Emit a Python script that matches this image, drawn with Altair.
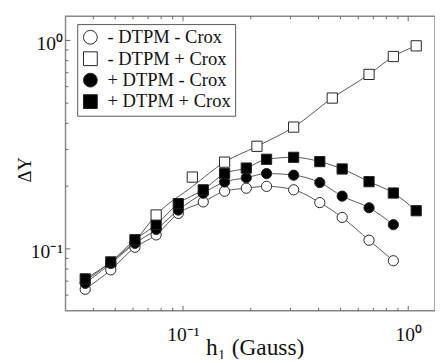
import altair as alt
import pandas as pd

# ---- data ----
series_names = ["- DTPM - Crox", "- DTPM + Crox", "+ DTPM - Crox", "+ DTPM + Crox"]

h_common = [0.0368, 0.0478, 0.0612, 0.0760, 0.0953, 0.123, 0.153, 0.191,
            0.235, 0.310, 0.405, 0.509, 0.670, 0.859]

open_circle_y = [0.064, 0.0793, 0.1018, 0.1167, 0.148, 0.168, 0.189, 0.1955,
                 0.1995, 0.192, 0.1667, 0.1415, 0.110, 0.0877]
filled_circle_y = [0.0683, 0.0851, 0.1063, 0.1239, 0.1535, 0.1849, 0.2093, 0.2194,
                   0.2297, 0.2257, 0.208, 0.179, 0.1575, 0.1307]
h_filled_square = h_common + [1.085]
filled_square_y = [0.0718, 0.0866, 0.1106, 0.1307, 0.1648, 0.192, 0.2297, 0.2441,
                   0.269, 0.2749, 0.2622, 0.2417, 0.2101, 0.1853, 0.1524]

h_open_square = [0.0760, 0.110, 0.153, 0.213, 0.310, 0.460, 0.670, 0.859, 1.085]
open_square_y = [0.1454, 0.221, 0.2606, 0.3105, 0.3838, 0.529, 0.687, 0.837, 0.942]

# fitted curve drawn through the open squares
h_open_square_line = [0.0368, 0.0478, 0.0612, 0.0760, 0.110, 0.153, 0.213, 0.310,
                      0.460, 0.670, 0.859, 1.085]
open_square_line_y = [0.070, 0.0866, 0.109, 0.1454, 0.199, 0.2606, 0.3105, 0.3838,
                      0.529, 0.687, 0.837, 0.942]

x_major = [0.1, 1.0]
x_minor = [0.04, 0.05, 0.06, 0.07, 0.08, 0.09, 0.2, 0.3, 0.4, 0.5, 0.6, 0.7, 0.8, 0.9]
y_major = [0.1, 1.0]
y_minor = [0.06, 0.07, 0.08, 0.09, 0.2, 0.3, 0.4, 0.5, 0.6, 0.7, 0.8, 0.9]

# ---- tables ----
def frame(xs, ys, name):
    return pd.DataFrame({"h": xs, "dy": ys, "series": name})

points = pd.concat([
    frame(h_common, open_circle_y, series_names[0]),
    frame(h_common, filled_circle_y, series_names[2]),
    frame(h_filled_square, filled_square_y, series_names[3]),
    frame(h_open_square, open_square_y, series_names[1]),
], ignore_index=True)

lines = pd.concat([
    frame(h_common, open_circle_y, series_names[0]),
    frame(h_open_square_line, open_square_line_y, series_names[1]),
    frame(h_common, filled_circle_y, series_names[2]),
    frame(h_filled_square, filled_square_y, series_names[3]),
], ignore_index=True)

W, H = 379, 302
FONT = "Liberation Serif"
INK = "#222"

xscale = alt.Scale(type="log", domain=[0.03009, 1.315], nice=False)
yscale = alt.Scale(type="log", domain=[0.0505, 1.305], nice=False)

x_axis = alt.Axis(values=x_major, labelExpr="datum.value >= 1 ? '10⁰' : '10⁻¹'",
                  ticks=False, domain=False, grid=False, labelFont=FONT, labelFontSize=20,
                  labelPadding=15, labelColor="#111", labelFlush=False,
                  title="h₁ (Gauss)", titleFont=FONT, titleFontSize=24, titleFontWeight="normal",
                  titleColor="#111", titleBaseline="alphabetic", titleY=45, titleX=194)
y_axis = alt.Axis(values=y_major, labelExpr="datum.value >= 1 ? '10⁰' : '10⁻¹'",
                  ticks=False, domain=False, grid=False, labelFont=FONT, labelFontSize=20,
                  labelPadding=3, labelColor="#111", labelFlush=False, labelOffset=3,
                  title="ΔY", titleFont=FONT, titleFontSize=19, titleFontWeight="normal",
                  titleColor="#111", titleAngle=270, titleBaseline="alphabetic",
                  titleX=-36, titleY=157, titleAlign="center")

line_layer = alt.Chart(lines).mark_line(color="#555", strokeWidth=1, interpolate="monotone").encode(
    x=alt.X("h:Q", scale=xscale, axis=x_axis),
    y=alt.Y("dy:Q", scale=yscale, axis=y_axis),
    detail="series:N",
    order=alt.Order("h:Q"),
)

point_layer = alt.Chart(points).mark_point(filled=True, size=110, strokeWidth=1,
                                           opacity=1).encode(
    x=alt.X("h:Q", scale=xscale, axis=x_axis),
    y=alt.Y("dy:Q", scale=yscale, axis=y_axis),
    shape=alt.Shape("series:N", scale=alt.Scale(domain=series_names,
                    range=["circle", "square", "circle", "square"]),
                    legend=alt.Legend(title=None, orient="none", legendX=12, legendY=8,
                                      symbolStrokeColor=INK, symbolStrokeWidth=1)),
    fill=alt.Fill("series:N", scale=alt.Scale(domain=series_names,
                  range=["white", "white", "black", "black"])),
    stroke=alt.Stroke("series:N", scale=alt.Scale(domain=series_names,
                      range=[INK, INK, INK, INK])),
)

def xticks(vals, length, top):
    df = pd.DataFrame({"t": vals})
    if top:
        yy, yy2 = alt.value(0), alt.value(length)
    else:
        yy, yy2 = alt.value(H), alt.value(H - length)
    return alt.Chart(df).mark_rule(color="#666", strokeWidth=1).encode(
        x=alt.X("t:Q", scale=xscale, axis=x_axis), y=yy, y2=yy2)

def yticks(vals, length):
    df = pd.DataFrame({"t": vals})
    return alt.Chart(df).mark_rule(color="#666", strokeWidth=1).encode(
        y=alt.Y("t:Q", scale=yscale, axis=y_axis), x=alt.value(0), x2=alt.value(length))

chart = alt.layer(
    line_layer,
    xticks(x_major, 5, False), xticks(x_minor, 3, False),
    xticks(x_major, 5, True), xticks(x_minor, 3, True),
    yticks(y_major, 5), yticks(y_minor, 3),
    point_layer,
).properties(
    width=W, height=H,
    background="white",
    autosize=alt.AutoSizeParams(type="none"),
    padding={"left": 59, "top": 4, "right": 0, "bottom": 45},
).configure_view(
    stroke="#888", strokeWidth=1.5
).configure_legend(
    labelFont=FONT, labelFontSize=19, labelColor="#111", symbolSize=200,
    symbolStrokeColor=INK, symbolStrokeWidth=1, symbolOpacity=1,
    strokeColor="#555", strokeWidth=1, padding=4, labelOffset=8, rowPadding=2,
    fillColor="white", labelLimit=300,
)

chart.save("out.html", embed_options={"renderer": "svg", "actions": False})
